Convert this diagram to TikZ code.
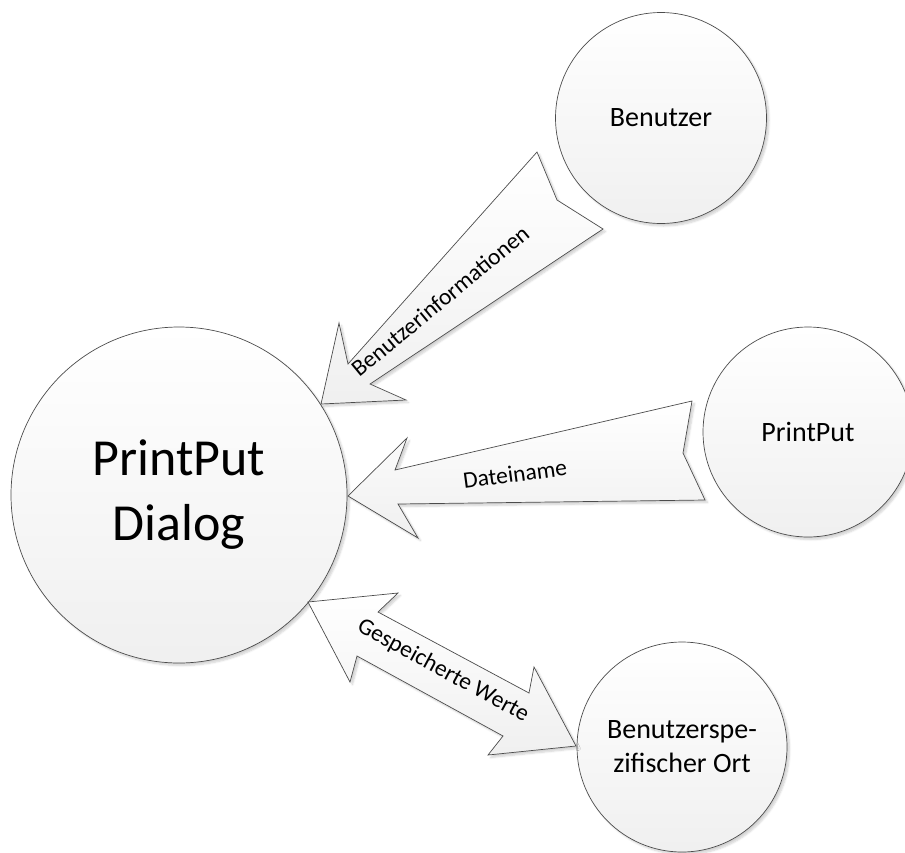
\documentclass[tikz,border=0pt]{standalone}
\usepackage{fontspec}
\setmainfont{Carlito}
\usetikzlibrary{shadows.blur}
\begin{document}
\begin{tikzpicture}[x=1pt,y=-1pt,
  shapefill/.style={draw=black!70, line width=0.7pt, top color=white, bottom color=black!6,
    blur shadow={shadow xshift=2.5pt, shadow yshift=-2.5pt, shadow blur steps=6, shadow opacity=18}},
  bubble/.style={shapefill, circle, inner sep=0pt, align=center, font=\fontsize{28}{34}\selectfont},
  flowlabel/.style={font=\fontsize{23.5}{28}\selectfont, inner sep=0pt}]
\useasboundingbox (0,0) rectangle (905,852);

% processes and stores
\node[bubble, minimum size=336pt, font=\fontsize{52}{65}\selectfont] (dialog) at (179,495) {PrintPut\\Dialog};
\node[bubble, minimum size=211pt] (user) at (661,118) {Benutzer};
\node[bubble, minimum size=210pt] (printput) at (808,432) {PrintPut};
\node[bubble, minimum size=210pt] (store) at (682,747) {Benutzerspe-\\zifischer Ort};

% flow: user -> dialog
\path[shapefill] (537,152) -- (557,200) -- (603,229) -- (370,384) -- (406,400)
  -- (321,404) -- (339,323) -- (348,364) -- cycle;
\node[flowlabel, rotate=39.5] (l1) at (440,301) {Benutzerinformationen};

% flow: printput -> dialog
\path[shapefill] (348,496) -- (407,438) -- (395,470) -- (692,401) -- (683,453)
  -- (705,500) -- (398,504) -- (418,538) -- cycle;
\node[flowlabel, rotate=7.7] (l2) at (515,474) {Dateiname};

% flow: dialog <-> store
\path[shapefill] (308,602) -- (398,593) -- (378,612) -- (529,693) -- (534,667)
  -- (576,746) -- (488,755) -- (503,736) -- (357,656) -- (350,682) -- cycle;
\node[flowlabel, rotate=-28.5] (l3) at (443,671) {Gespeicherte Werte};
\end{tikzpicture}
\end{document}
